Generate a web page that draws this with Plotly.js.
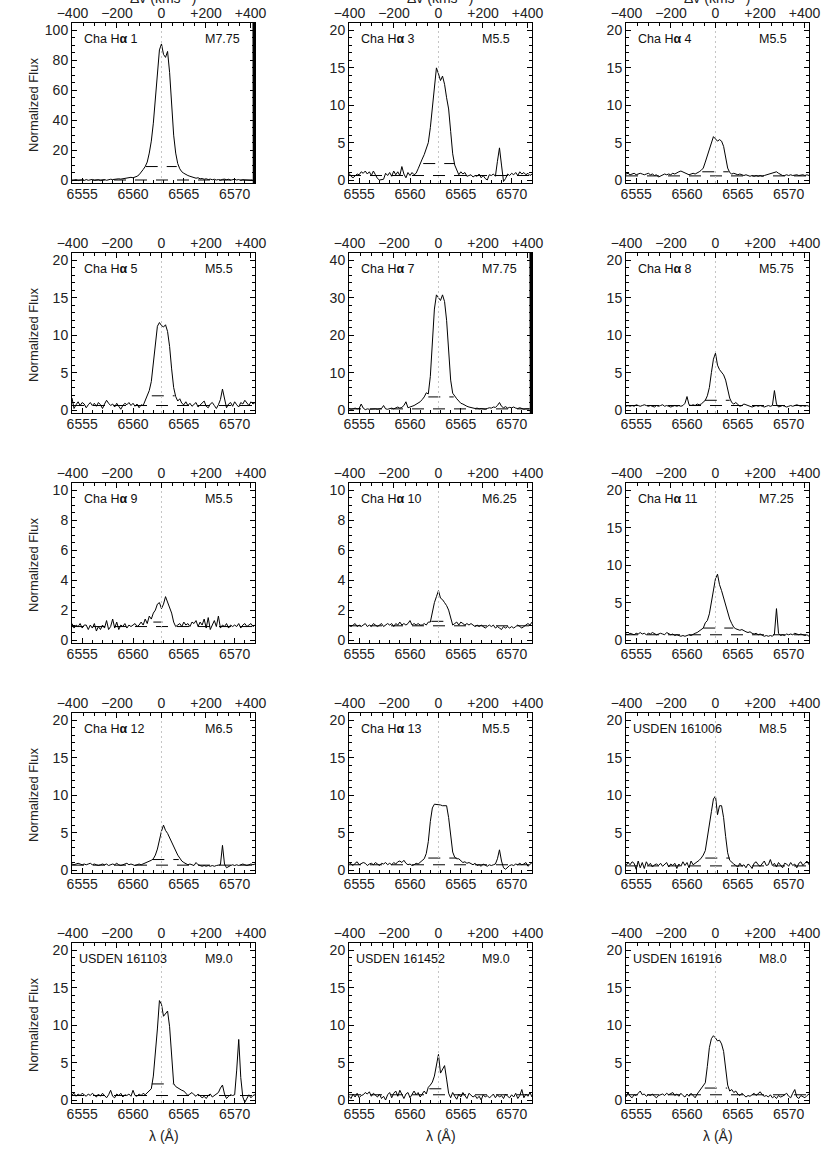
<!DOCTYPE html>
<html><head><meta charset="utf-8">
<script src="https://cdn.plot.ly/plotly-3.0.1.min.js"></script>
<style>html,body{margin:0;padding:0;background:#fff}#chart{width:830px;height:1150px}</style>
</head><body><div id="chart"></div>
<script>
// wavelength grid (Angstrom)
const wavelength = [
6554.0,6554.2,6554.4,6554.6,6554.8,6555.0,6555.2,6555.4,6555.6,6555.8,
6556.0,6556.2,6556.4,6556.6,6556.8,6557.0,6557.2,6557.4,6557.6,6557.8,
6558.0,6558.2,6558.4,6558.6,6558.8,6559.0,6559.2,6559.4,6559.6,6559.8,
6560.0,6560.2,6560.4,6560.6,6560.8,6561.0,6561.2,6561.4,6561.6,6561.8,
6562.0,6562.2,6562.4,6562.6,6562.8,6563.0,6563.2,6563.4,6563.6,6563.8,
6564.0,6564.2,6564.4,6564.6,6564.8,6565.0,6565.2,6565.4,6565.6,6565.8,
6566.0,6566.2,6566.4,6566.6,6566.8,6567.0,6567.2,6567.4,6567.6,6567.8,
6568.0,6568.2,6568.4,6568.6,6568.8,6569.0,6569.2,6569.4,6569.6,6569.8,
6570.0,6570.2,6570.4,6570.6,6570.8,6571.0,6571.2,6571.4,6571.6,6571.8,
6572.0];

const fluxChaHa1 = [
-0.5,-0.3,0.2,-0.4,-0.2,0.1,-0.3,0.3,-0.2,0.0,
0.4,-0.3,-0.1,0.2,-0.4,0.1,0.3,-0.2,0.2,0.5,
0.3,0.6,0.4,0.8,0.6,0.9,0.7,1.0,1.4,1.8,
1.5,1.8,2.5,3.5,5.0,7.0,9.0,12,18,26,
38,55,75,87,91,84,82,86,72,48,
30,18,11,7.5,5.5,4.5,3.5,3.0,2.5,2.0,
1.8,1.2,1.5,0.8,1.0,0.5,0.8,0.3,0.6,0.2,
0.5,0.0,0.3,-0.2,0.4,0.6,0.2,0.5,-0.1,0.3,
0.5,0.0,0.3,-0.3,0.2,0.0,-0.2,0.1,-0.3,0.0,
-0.2];
const fluxChaHa3 = [
0.9,0.5,0.3,0.6,0.8,0.7,1.1,0.9,1.2,0.8,
1.1,0.6,1.2,0.7,0.2,0.0,0.0,0.1,0.9,0.6,
1.0,0.5,1.2,0.7,1.1,0.6,1.8,0.8,0.3,1.0,
0.6,1.0,0.7,0.9,1.5,2.3,2.8,3.4,4.2,5.0,
7.0,10.0,13.0,15.0,14.2,13.3,13.9,12.8,11.0,9.5,
6.5,3.5,2.0,1.2,0.7,1.1,0.8,1.0,0.5,0.6,
0.7,0.4,0.6,0.5,0.8,0.3,0.6,0.2,0.0,0.7,
0.6,0.8,0.5,2.5,4.3,2.0,-0.2,0.2,0.8,0.6,
0.9,0.7,1.0,0.6,1.1,0.8,1.0,0.7,0.9,0.6,
0.8];
const fluxChaHa4 = [
0.8,0.9,0.7,0.8,0.9,0.7,0.8,0.9,0.8,0.7,
0.8,0.9,0.7,0.8,0.6,0.7,0.4,0.5,0.7,0.8,
0.7,0.8,0.7,0.9,0.8,1.0,1.1,1.2,1.1,0.9,
0.8,0.7,0.8,0.9,0.8,0.9,1.1,1.3,1.6,2.4,
3.3,4.2,5.0,5.8,5.5,5.2,5.4,5.2,4.5,3.2,
1.6,1.0,0.8,0.9,0.8,0.7,0.8,0.7,0.6,0.7,
0.6,0.5,0.6,0.5,0.6,0.5,0.6,0.5,0.6,0.7,
0.7,0.8,0.9,1.0,1.1,0.9,0.7,0.6,0.6,0.7,
0.6,0.7,0.6,0.7,0.7,0.6,0.7,0.7,0.6,0.7,
0.6];
const fluxChaHa5 = [
1.6,0.2,0.7,1.1,0.6,1.0,0.8,0.3,0.7,1.0,
0.6,0.9,0.5,1.0,0.7,0.2,0.8,1.3,0.9,0.6,
0.8,0.4,0.9,0.5,0.1,0.6,0.9,0.7,1.0,0.6,
0.9,0.5,0.8,0.3,0.7,0.6,1.2,2.0,2.6,3.8,
6.5,9.5,11.2,11.7,11.3,11.1,11.4,10.5,8.5,5.5,
3.0,1.8,1.2,1.5,0.9,0.7,1.1,0.6,0.9,0.5,
0.8,1.0,0.4,0.7,0.9,1.2,0.5,0.3,0.8,1.0,
0.6,0.2,0.7,1.4,2.8,1.5,0.3,0.8,1.0,0.5,
1.1,0.7,0.4,1.0,0.8,1.3,0.9,0.6,1.1,0.8,
1.0];
const fluxChaHa7 = [
0.4,0.2,0.3,0.5,0.3,0.4,1.6,0.5,0.1,0.3,
0.2,0.3,0.4,0.3,0.2,0.3,0.4,1.2,0.3,0.2,
0.4,0.5,0.3,0.6,0.8,0.5,0.7,1.2,2.2,0.6,
0.7,1.0,1.2,1.5,1.8,2.2,2.8,3.5,4.6,4.3,
9.0,18,27,30.8,30.0,29.3,30.8,29,24,15,
8,4.5,3.6,3.0,2.4,1.8,1.6,1.2,1.0,0.8,
0.6,0.5,0.4,0.5,0.3,0.4,0.3,0.2,0.4,0.6,
0.5,0.8,0.7,1.2,2.0,1.0,0.6,0.9,0.5,0.7,
0.6,0.8,0.5,0.4,0.6,0.3,0.2,0.3,0.4,0.3,
0.3];
const fluxChaHa8 = [
0.5,0.6,0.5,0.6,0.5,0.7,0.6,0.5,0.6,0.7,
0.6,0.5,0.6,0.5,0.4,0.6,0.5,0.6,0.7,0.5,
0.6,0.5,0.4,0.5,0.6,0.5,0.6,0.5,0.6,0.9,
1.8,0.7,0.6,0.7,0.6,0.8,0.7,0.8,1.0,1.3,
1.9,3.0,5.0,6.8,7.6,6.0,5.4,5.1,4.7,4.0,
2.7,1.6,1.0,0.8,1.0,0.7,0.5,0.6,0.8,0.7,
0.6,0.5,0.4,0.5,0.6,0.5,0.6,0.5,0.4,0.5,
0.6,0.5,0.6,2.6,0.8,0.4,0.5,0.6,0.5,0.4,
0.5,0.6,0.5,0.6,0.7,0.6,0.5,0.6,0.5,0.6,
0.5];
const fluxChaHa9 = [
1.1,0.8,1.0,0.9,1.1,0.8,1.0,1.0,0.7,1.0,
0.8,1.1,0.6,0.9,0.7,1.0,0.8,1.3,0.7,0.9,
1.4,0.8,1.2,0.7,1.0,0.9,1.1,0.8,1.0,0.9,
1.0,1.1,0.9,1.0,1.2,1.0,1.4,1.1,1.6,1.4,
1.8,2.0,2.4,2.5,2.1,2.4,2.9,2.5,2.1,1.8,
1.2,0.9,1.0,1.1,0.9,1.2,1.0,1.1,0.9,1.2,
1.1,1.3,0.9,1.2,1.0,1.4,0.8,1.5,0.7,1.0,
1.3,0.9,1.6,0.8,1.0,0.9,1.1,0.8,1.0,0.9,
1.0,0.9,1.1,0.8,1.0,1.1,0.9,1.0,1.1,0.9,
1.0];
const fluxChaHa10 = [
1.0,0.9,1.0,1.1,0.9,1.0,0.9,1.0,1.1,0.9,
1.0,0.9,1.1,1.0,0.9,1.0,1.1,0.9,1.0,1.1,
1.0,1.1,0.9,1.1,1.0,1.2,1.0,1.1,1.0,1.1,
1.3,1.0,1.1,1.0,1.1,1.0,1.0,1.1,1.0,1.2,
1.2,1.9,2.5,2.9,3.3,2.8,2.7,2.5,2.3,2.0,
1.4,1.0,1.1,1.2,1.0,1.2,1.1,1.0,1.1,1.0,
1.1,1.0,0.9,1.0,0.9,1.0,0.9,0.8,0.9,1.0,
0.9,1.0,0.8,0.9,0.8,0.7,0.9,0.8,0.9,0.8,
0.9,0.8,0.9,1.0,0.9,0.8,0.9,1.0,1.1,1.0,
1.2];
const fluxChaHa11 = [
0.8,0.7,0.9,0.8,0.7,0.9,0.8,1.0,0.8,0.9,
0.7,0.9,0.8,1.0,0.9,0.7,0.8,0.9,0.8,0.7,
1.0,0.8,0.7,0.8,0.6,0.7,0.6,0.5,0.6,0.5,
0.6,0.7,0.6,0.8,0.9,1.0,1.2,1.4,1.6,2.3,
2.6,3.5,5.2,6.8,8.2,8.8,7.4,6.6,5.6,4.8,
3.6,2.8,2.2,1.7,1.5,1.4,1.3,1.4,1.2,1.1,
1.0,1.1,0.9,0.8,0.9,0.7,0.8,0.6,0.5,0.6,
0.5,0.6,0.5,0.8,4.2,0.9,0.6,0.7,0.6,0.8,
0.7,0.8,0.7,0.9,0.8,0.7,0.8,0.7,0.6,0.7,
0.5];
const fluxChaHa12 = [
0.8,0.7,0.8,0.9,0.8,0.7,0.8,0.7,0.8,0.9,
0.7,0.8,0.7,0.6,0.7,0.8,0.7,0.8,0.6,0.7,
0.8,0.7,0.9,0.7,0.6,0.7,0.8,0.9,0.7,0.8,
0.7,0.6,0.7,0.8,0.7,0.8,0.9,1.0,1.1,1.3,
1.5,2.0,2.8,4.2,5.2,6.0,5.3,4.9,4.3,3.8,
3.2,2.6,2.0,1.6,1.2,1.0,0.8,0.7,0.8,0.7,
0.6,1.0,0.7,0.6,0.5,0.6,0.5,0.6,0.5,0.6,
0.5,0.6,0.6,0.7,3.3,0.8,0.3,0.5,0.6,0.7,
0.6,0.7,0.6,0.7,0.8,0.7,0.6,0.7,0.8,0.7,
0.8];
const fluxChaHa13 = [
1.0,0.8,0.6,0.9,1.1,0.7,0.8,1.0,0.9,0.6,
0.8,0.9,0.7,1.0,0.8,0.6,0.9,0.8,1.0,0.7,
0.9,0.7,1.0,0.8,1.1,1.2,1.0,1.3,0.9,0.7,
0.8,0.6,0.7,0.9,0.8,1.0,1.2,1.5,2.2,3.8,
6.5,8.3,8.8,8.8,8.7,8.7,8.6,8.6,8.6,7.0,
4.2,2.4,1.7,1.5,1.5,1.2,1.0,1.1,0.9,1.0,
0.8,0.7,0.9,0.6,0.7,0.5,0.8,0.6,0.5,0.7,
0.6,0.7,0.8,1.5,2.7,1.2,0.3,0.1,0.4,0.6,
0.7,0.6,0.8,0.7,0.9,0.7,0.8,1.0,0.5,0.7,
1.0];
const fluxUSDEN161006 = [
0.6,1.0,0.7,1.1,0.9,0.1,1.2,0.3,1.0,0.2,
1.1,0.6,0.9,0.4,0.7,0.8,0.6,0.9,0.5,0.7,
1.0,0.4,0.8,0.6,0.9,0.2,0.8,0.5,1.1,0.6,
1.0,0.3,1.2,0.7,0.9,1.0,1.3,1.6,2.0,2.6,
4.5,6.5,7.8,9.5,9.9,7.4,8.6,8.6,7.0,4.5,
2.3,1.3,1.0,0.8,0.6,0.4,0.9,0.5,0.7,0.3,
0.8,0.6,0.2,0.9,1.1,0.7,0.5,0.8,1.2,0.6,
0.7,1.4,0.6,0.9,0.4,1.0,0.7,0.3,0.9,0.8,
0.5,1.0,0.6,0.8,0.3,0.9,1.1,0.6,0.9,1.2,
0.7];
const fluxUSDEN161103 = [
0.7,0.9,0.5,0.8,0.6,0.9,0.7,0.5,0.8,0.6,
0.9,0.6,0.4,0.8,0.5,0.9,0.6,0.3,0.7,1.3,
0.5,0.3,0.8,0.6,0.9,0.4,0.7,0.6,0.8,0.5,
1.3,0.6,0.5,0.8,0.6,0.9,0.7,1.0,1.2,1.5,
3.2,6.0,9.5,13.3,12.8,11.2,11.6,11.9,9.8,6.3,
2.2,1.8,1.6,1.5,1.3,1.2,0.9,0.6,0.8,1.0,
0.7,0.5,0.8,0.6,0.3,0.5,0.2,0.6,0.8,0.4,
0.6,0.8,1.0,1.6,2.0,0.8,0.2,0.5,0.7,0.6,
0.7,4.0,8.1,3.0,0.4,-0.3,0.2,0.7,0.3,0.6,
0.7];
const fluxUSDEN161452 = [
0.5,0.2,0.8,0.4,0.9,0.3,0.6,0.7,1.0,0.8,
1.1,0.5,0.9,0.6,0.4,0.8,0.2,0.5,0.0,0.7,
1.0,0.3,0.9,1.2,0.5,1.3,0.7,0.2,0.8,1.0,
0.3,0.8,1.2,0.7,1.0,0.4,0.9,1.2,0.8,1.7,
2.0,2.4,3.2,4.8,6.1,3.6,4.2,4.6,2.8,0.9,
0.3,1.0,0.5,0.1,0.8,0.4,1.0,0.6,0.2,0.9,
0.7,0.4,0.6,0.2,0.5,0.0,0.7,0.4,0.6,0.3,
0.5,0.8,0.3,0.7,0.4,0.6,0.2,0.8,0.5,0.3,
0.7,0.4,0.9,0.2,0.6,1.4,0.3,0.8,0.5,1.0,
0.4];
const fluxUSDEN161916 = [
0.4,1.0,0.5,0.3,0.7,0.6,0.9,1.2,0.7,0.8,
0.5,0.7,0.6,0.8,0.5,0.3,0.6,0.7,0.8,0.6,
0.9,0.7,0.8,1.0,0.6,0.8,0.5,0.9,0.6,0.4,
0.8,0.5,0.9,0.6,0.3,0.8,1.2,1.6,2.0,2.3,
4.5,7.0,8.2,8.6,8.3,7.9,8.0,7.5,6.5,4.5,
2.0,1.2,1.4,1.0,1.2,0.8,0.6,0.9,0.7,0.4,
0.6,0.5,0.7,0.9,0.6,0.8,1.1,0.7,0.5,0.6,
0.4,0.7,0.3,0.5,0.2,0.6,0.4,0.5,0.7,0.9,
0.5,0.3,0.9,1.4,0.4,0.2,0.6,0.4,0.3,0.6,
0.8];

// saturated edge artefact at the red end of two spectra
const edgeLambda = [6571.84,6571.88,6571.92,6571.96,6572.0];
const edgeFluxChaHa1 = [130,-5,130,-5,130];
const edgeFluxChaHa7 = [50,-2,50,-2,50];

const objectNames = ['Cha H<b>α</b> 1','Cha H<b>α</b> 3','Cha H<b>α</b> 4','Cha H<b>α</b> 5','Cha H<b>α</b> 7','Cha H<b>α</b> 8',
  'Cha H<b>α</b> 9','Cha H<b>α</b> 10','Cha H<b>α</b> 11','Cha H<b>α</b> 12','Cha H<b>α</b> 13','USDEN 161006',
  'USDEN 161103','USDEN 161452','USDEN 161916'];
const spectralTypes = ['M7.75','M5.5','M5.5','M5.5','M7.75','M5.75','M5.5','M6.25','M7.25','M6.5','M5.5','M8.5','M9.0','M9.0','M8.0'];
const yMaxima = [100,20,20,20,40,20,10,10,20,20,20,20,20,20,20];
const continuumLevels = [0.0,0.6,0.55,0.6,0.3,0.6,0.9,0.95,0.7,0.65,0.7,0.55,0.6,0.7,0.7];
const tenPercentLevels = [9,2.2,1.1,1.9,3.5,1.3,1.2,1.25,1.6,1.4,1.6,1.6,2.15,1.5,1.6];
const tenPercentBlue = [6561.25,6561.3,6561.5,6561.85,6561.8,6561.75,6562.0,6562.1,6561.6,6561.9,6561.8,6561.8,6561.85,6561.9,6561.75];
const tenPercentRed = [6564.3,6564.4,6564.1,6564.1,6564.3,6564.2,6562.9,6564.1,6564.55,6564.5,6564.6,6564.2,6564.0,6563.8,6563.95];
const velocityTicks = [-400,-200,0,200,400];
const velocityTickText = ['\u2212400','\u2212200','0','+200','+400'];

const spectra = [fluxChaHa1,fluxChaHa3,fluxChaHa4,fluxChaHa5,fluxChaHa7,fluxChaHa8,fluxChaHa9,fluxChaHa10,
  fluxChaHa11,fluxChaHa12,fluxChaHa13,fluxUSDEN161006,fluxUSDEN161103,fluxUSDEN161452,fluxUSDEN161916];
const edgeArtefacts = {0: edgeFluxChaHa1, 4: edgeFluxChaHa7};

const W = 830, H = 1150;
const colLeft = [72, 349, 626], colW = 183;
const rowTop0 = 23, rowStep = 230, boxH = 160;
const lamRange = [6554, 6572];
const lam0 = 6562.8, cLight = 299792.458;
const vRange = lamRange.map(l => (l - lam0) / lam0 * cLight);
const FONT = '"Liberation Sans", Arial, Helvetica, sans-serif';
const tickFont = {family: FONT, size: 14, color: '#222'};
const ink = '#000';

function yDtick(m){ return m >= 100 ? [20,5] : m >= 40 ? [10,2] : m >= 20 ? [5,1] : [2,0.5]; }
const key = i => (i === 1 ? '' : String(i));

const traces = [];
const layout = {
  width: W, height: H, margin: {l:0, r:0, t:0, b:0},
  paper_bgcolor: '#fff', plot_bgcolor: '#fff', showlegend: false,
  font: {family: FONT, color: '#222'}, annotations: []
};

spectra.forEach((flux, p) => {
  const r = Math.floor(p / 3), c = p % 3;
  const L = colLeft[c], top = rowTop0 + r * rowStep;
  const xb = 2*p + 1, xt = 2*p + 2, yi = p + 1;
  const M = yMaxima[p];
  const yr = [-0.02*M, 1.05*M];
  const [dt, mdt] = yDtick(M);
  const xdom = [L / W, (L + colW) / W];
  const ydom = [1 - (top + boxH) / H, 1 - top / H];

  layout['xaxis' + key(xb)] = {
    domain: xdom, range: lamRange, anchor: 'y' + key(yi), side: 'bottom',
    showline: true, linecolor: ink, linewidth: 1, mirror: false,
    ticks: 'inside', ticklen: 5, tickwidth: 1, tickcolor: ink,
    tickmode: 'linear', tick0: 0, dtick: 5,
    minor: {ticks: 'inside', ticklen: 3, tickcolor: ink, dtick: 1, tick0: 0},
    tickfont: tickFont, showgrid: false, zeroline: false, fixedrange: true,
    ticklabelstandoff: -2
  };
  layout['xaxis' + key(xt)] = {
    overlaying: 'x' + key(xb), anchor: 'y' + key(yi), side: 'top', range: vRange,
    showline: true, linecolor: ink, linewidth: 1,
    ticks: 'inside', ticklen: 5, tickwidth: 1, tickcolor: ink,
    tickmode: 'array', tickvals: velocityTicks, ticktext: velocityTickText,
    minor: {ticks: 'inside', ticklen: 3, tickcolor: ink, dtick: 50, tick0: 0},
    tickfont: tickFont, showgrid: false, zeroline: false, fixedrange: true,
    ticklabelstandoff: -2
  };
  layout['yaxis' + key(yi)] = {
    domain: ydom, range: yr, anchor: 'x' + key(xb),
    showline: true, linecolor: ink, linewidth: 1, mirror: 'ticks',
    ticks: 'inside', ticklen: 5, tickwidth: 1, tickcolor: ink,
    tickmode: 'linear', tick0: 0, dtick: dt,
    minor: {ticks: 'inside', ticklen: 3, tickcolor: ink, dtick: mdt, tick0: 0},
    tickfont: tickFont, showgrid: false, zeroline: false, fixedrange: true,
    ticklabelstandoff: 0
  };

  const xbRef = 'x' + key(xb), xtRef = 'x' + key(xt), yRef = 'y' + key(yi);
  // rest velocity marker
  traces.push({x: [0, 0], y: yr, xaxis: xtRef, yaxis: yRef, mode: 'lines',
    line: {color: '#c4c4c4', width: 1, dash: '2px,3px'}, hoverinfo: 'skip'});
  // continuum and 10% level
  traces.push({x: lamRange, y: [continuumLevels[p], continuumLevels[p]], xaxis: xbRef, yaxis: yRef,
    mode: 'lines', line: {color: ink, width: 1, dash: '12px,9px'}, hoverinfo: 'skip'});
  traces.push({x: [tenPercentBlue[p], tenPercentRed[p]], y: [tenPercentLevels[p], tenPercentLevels[p]],
    xaxis: xbRef, yaxis: yRef, mode: 'lines', line: {color: ink, width: 1, dash: '12px,9px'}, hoverinfo: 'skip'});
  // spectrum
  traces.push({x: wavelength, y: flux, xaxis: xbRef, yaxis: yRef, mode: 'lines',
    line: {color: ink, width: 1}, hoverinfo: 'skip'});
  if (edgeArtefacts[p]) {
    traces.push({x: edgeLambda, y: edgeArtefacts[p], xaxis: xbRef, yaxis: yRef, mode: 'lines',
      line: {color: ink, width: 2}, hoverinfo: 'skip'});
  }

  const nameOffset = objectNames[p].startsWith('USDEN') ? 5 : 10;
  layout.annotations.push({xref: 'paper', yref: 'paper', x: (L + nameOffset) / W, y: 1 - (top + 16) / H,
    xanchor: 'left', yanchor: 'middle', showarrow: false, text: objectNames[p],
    font: {family: FONT, size: 12.5, color: '#111'}});
  layout.annotations.push({xref: 'paper', yref: 'paper', x: (L + 131) / W, y: 1 - (top + 16) / H,
    xanchor: 'left', yanchor: 'middle', showarrow: false, text: spectralTypes[p],
    font: {family: FONT, size: 12.5, color: '#111'}});
  if (c === 0) {
    layout.annotations.push({xref: 'paper', yref: 'paper', x: 33 / W, y: 1 - (top + 82) / H,
      xanchor: 'center', yanchor: 'middle', showarrow: false, textangle: -90, text: 'Normalized Flux',
      font: {family: FONT, size: 13, color: '#222'}});
  }
  if (r === 4) {
    layout.annotations.push({xref: 'paper', yref: 'paper', x: (L + colW/2) / W, y: 1 - 1136 / H,
      xanchor: 'center', yanchor: 'middle', showarrow: false, text: 'λ (Å)',
      font: {family: FONT, size: 14, color: '#222'}});
  }
  if (r === 0) {
    layout.annotations.push({xref: 'paper', yref: 'paper', x: (L + 91) / W, y: 1 + 3 / H,
      xanchor: 'center', yanchor: 'middle', showarrow: false, text: 'Δv (kms<sup>−1</sup>)',
      font: {family: FONT, size: 14, color: '#222'}});
  }
});

Plotly.newPlot('chart', traces, layout, {displayModeBar: false, staticPlot: true});
</script>
</body></html>
